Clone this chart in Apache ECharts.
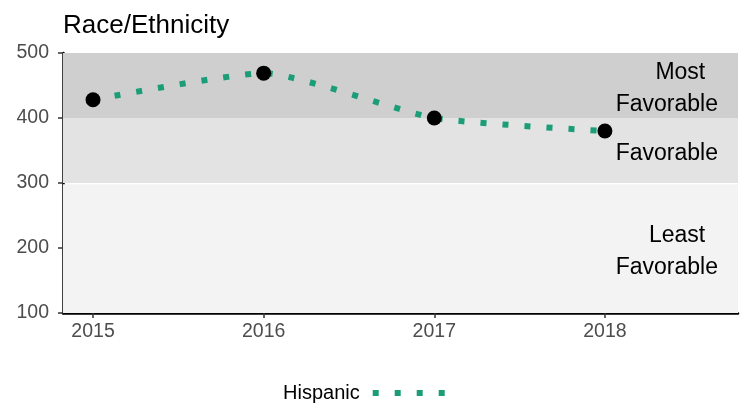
<!DOCTYPE html>
<html>
<head>
<meta charset="utf-8">
<script src="https://cdn.jsdelivr.net/npm/echarts@6/dist/echarts.min.js"></script>
<style>html,body{margin:0;padding:0;background:#fff}#c{width:746px;height:405px}</style>
</head>
<body>
<div id="c"></div>
<script>
const years = [2015, 2016, 2017, 2018];
const hispanic = [428, 469, 400, 380];
const yTicks = [100, 200, 300, 400, 500];
const bands = [
  {from: 400, to: 500, label: 'Most  \nFavorable', color: '#cfcfcf'},
  {from: 300, to: 400, label: 'Favorable', color: '#e3e3e3'},
  {from: 100, to: 298, label: 'Least  \nFavorable', color: '#f3f3f3'}
];
const FONT = '"Liberation Sans", Arial, sans-serif';
const chart = echarts.init(document.getElementById('c'));
chart.setOption({
  animation: false,
  title: {text: 'Race/Ethnicity', left: 58, top: 8,
    textStyle: {fontFamily: FONT, fontSize: 26, fontWeight: 'normal', color: '#000'}},
  grid: {left: 63, right: 8, top: 53, bottom: 92},
  legend: {
    top: 378, left: 278, align: 'right', itemGap: 10,
    itemWidth: 72, itemHeight: 6,
    textStyle: {fontFamily: FONT, fontSize: 20, color: '#000', padding: [0, 8, 0, 0]},
    data: [{name: 'Hispanic',
      icon: 'path://M0,0h6v6h-6z M22,0h6v6h-6z M44,0h6v6h-6z M66,0h6v6h-6z',
      itemStyle: {color: '#1b9e77'}}]
  },
  xAxis: {
    type: 'value', min: 2014.824, max: 2018.78,
    axisLine: {show: true, onZero: false, lineStyle: {color: '#000', width: 2.5}},
    axisTick: {show: true, customValues: years, length: 5, lineStyle: {color: '#333', width: 1.5}},
    axisLabel: {customValues: years, formatter: v => String(v), margin: 9,
      fontFamily: FONT, fontSize: 19.5, color: '#4d4d4d'},
    splitLine: {show: false}
  },
  yAxis: {
    type: 'value', min: 100, max: 500, interval: 100,
    axisLine: {show: true, lineStyle: {color: '#000', width: 2.5}},
    axisTick: {show: true, length: 5, lineStyle: {color: '#333', width: 1.5}},
    axisLabel: {margin: 14, fontFamily: FONT, fontSize: 19.5, color: '#4d4d4d',
      customValues: yTicks},
    splitLine: {show: false}
  },
  series: [{
    name: 'Hispanic', type: 'line',
    data: years.map((y, i) => [y, hispanic[i]]),
    smooth: 0.18,
    symbol: 'circle', symbolSize: 15,
    itemStyle: {color: '#000'},
    lineStyle: {color: '#1b9e77', width: 6, type: [6, 16], cap: 'butt'},
    z: 3,
    markArea: {
      silent: true,
      data: bands.map(b => [{
        yAxis: b.from,
        itemStyle: {color: b.color},
        label: {show: true, formatter: b.label, position: 'insideRight', distance: 20,
          offset: [0, 3],
          fontFamily: FONT, fontSize: 23, lineHeight: 32, color: '#000'}
      }, {yAxis: b.to}])
    }
  }]
});
</script>
</body>
</html>
